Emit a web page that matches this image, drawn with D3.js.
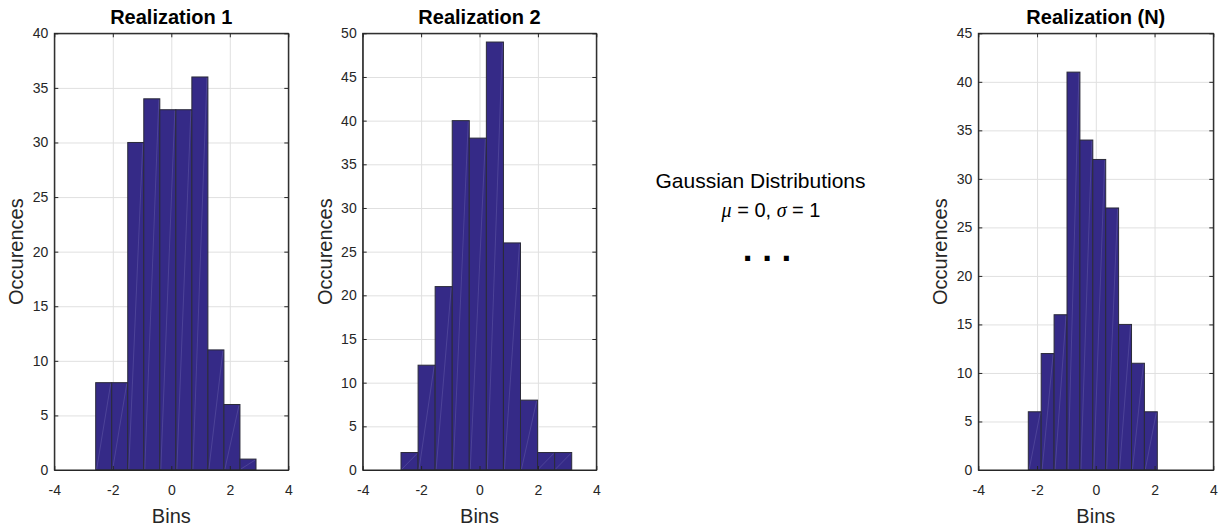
<!DOCTYPE html>
<html>
<head>
<meta charset="utf-8">
<script src="https://cdn.jsdelivr.net/npm/d3@7/dist/d3.min.js"></script>
<style>
  html, body { margin: 0; padding: 0; background: #fff; }
  svg { display: block; font-family: "Liberation Sans", Arial, Helvetica, sans-serif; }
</style>
</head>
<body>
<svg id="chart" width="1225" height="531"></svg>
<script>
// ---------- data ----------
const titles = ["Realization 1", "Realization 2", "Realization (N)"];

const r1Edges  = [-2.585, -2.037, -1.489, -0.941, -0.393, 0.155, 0.703, 1.251, 1.799, 2.347, 2.896];
const r1Counts = [8, 8, 30, 34, 33, 33, 36, 11, 6, 1];

const r2Edges  = [-2.688, -2.103, -1.519, -0.934, -0.350, 0.235, 0.820, 1.404, 1.989, 2.573, 3.158];
const r2Counts = [2, 12, 21, 40, 38, 49, 26, 8, 2, 2];

const rNEdges  = [-2.298, -1.859, -1.420, -0.980, -0.541, -0.102, 0.337, 0.776, 1.216, 1.655, 2.094];
const rNCounts = [6, 12, 16, 41, 34, 32, 27, 15, 11, 6];

const xTicks = [-4, -2, 0, 2, 4];
const yMaxes = [40, 50, 45];
const yStep = 5;

const xLabel = "Bins";
const yLabel = "Occurences";
const noteLine1 = "Gaussian Distributions";

// ---------- layout ----------
const panels = [
  { x0: 54.3,  x1: 288.3,  edges: r1Edges, counts: r1Counts, ymax: yMaxes[0], title: titles[0] },
  { x0: 362.7, x1: 596.3,  edges: r2Edges, counts: r2Counts, ymax: yMaxes[1], title: titles[1] },
  { x0: 978.3, x1: 1213.3, edges: rNEdges, counts: rNCounts, ymax: yMaxes[2], title: titles[2] }
];
const yTop = 33.3, yBot = 470;
const ink = "#262626";
const barFill = "#352a87";

const svg = d3.select("#chart");

panels.forEach(p => {
  const W = p.x1 - p.x0, H = yBot - yTop;
  const g = svg.append("g").attr("transform", `translate(${p.x0},${yTop})`);
  const x = d3.scaleLinear().domain([-4, 4]).range([0, W]);
  const y = d3.scaleLinear().domain([0, p.ymax]).range([H, 0]);
  const yTicks = d3.range(0, p.ymax + 0.001, yStep);

  // grid
  const grid = g.append("g").attr("class", "grid");
  grid.append("g").call(d3.axisLeft(y).tickValues(yTicks).tickSize(-W).tickFormat(""))
    .call(s => s.select(".domain").remove());
  grid.append("g").attr("transform", `translate(0,${H})`)
    .call(d3.axisBottom(x).tickValues(xTicks).tickSize(-H).tickFormat(""))
    .call(s => s.select(".domain").remove());
  grid.selectAll("line").attr("stroke", "#e0e0e0").attr("stroke-width", 1);

  // bars
  const bins = p.counts.map((c, i) => ({ x0: p.edges[i], x1: p.edges[i + 1], c }));
  g.append("g").selectAll("rect").data(bins).join("rect")
    .attr("x", d => x(d.x0))
    .attr("y", d => y(d.c))
    .attr("width", d => x(d.x1) - x(d.x0))
    .attr("height", d => y(0) - y(d.c))
    .attr("fill", barFill)
    .attr("stroke", "#2b2b3a")
    .attr("stroke-width", 1);
  // faint rendering diagonals
  g.append("g").selectAll("line").data(bins).join("line")
    .attr("x1", d => x(d.x0) + 1).attr("y1", y(0) - 1)
    .attr("x2", d => x(d.x1) - 1).attr("y2", d => y(d.c) + 1)
    .attr("stroke", "#8f88c8").attr("stroke-opacity", 0.45).attr("stroke-width", 0.6);

  // axes with inward ticks
  const fmt = d => String(d);
  const axL = g.append("g").call(d3.axisLeft(y).tickValues(yTicks).tickSizeInner(-4).tickSizeOuter(0).tickPadding(6).tickFormat(fmt));
  const axR = g.append("g").attr("transform", `translate(${W},0)`)
    .call(d3.axisRight(y).tickValues(yTicks).tickSizeInner(-4).tickSizeOuter(0).tickFormat(""));
  const axB = g.append("g").attr("transform", `translate(0,${H})`)
    .call(d3.axisBottom(x).tickValues(xTicks).tickSizeInner(-4).tickSizeOuter(0).tickPadding(15).tickFormat(fmt));
  const axT = g.append("g")
    .call(d3.axisTop(x).tickValues(xTicks).tickSizeInner(-4).tickSizeOuter(0).tickFormat(""));
  [axL, axR, axB, axT].forEach(a => {
    a.selectAll(".domain").attr("stroke", ink);
    a.selectAll(".tick line").attr("stroke", ink);
    a.selectAll("text").attr("fill", ink).style("font-size", "14px").style("font-family", "'Liberation Sans', Arial, sans-serif");
  });
  // box
  g.append("rect").attr("x", 0).attr("y", 0).attr("width", W).attr("height", H)
    .attr("fill", "none").attr("stroke", ink).attr("stroke-width", 1);

  // title
  g.append("text").attr("x", W / 2).attr("y", 24 - yTop)
    .attr("text-anchor", "middle").attr("font-weight", "bold").attr("font-size", 20)
    .attr("fill", "#000").text(p.title);
  // x label
  g.append("text").attr("x", W / 2).attr("y", 523 - yTop)
    .attr("text-anchor", "middle").attr("font-size", 20).attr("fill", ink).text(xLabel);
  // y label
  g.append("text").attr("transform", `translate(-31,${H / 2}) rotate(-90)`)
    .attr("text-anchor", "middle").attr("font-size", 20).attr("fill", ink).text(yLabel);
});

// center annotation
const note = svg.append("g").attr("fill", "#000");
note.append("text").attr("x", 760.5).attr("y", 188).attr("text-anchor", "middle")
  .attr("font-size", 21).text(noteLine1);
const l2 = note.append("text").attr("x", 771).attr("y", 217).attr("text-anchor", "middle").attr("font-size", 20);
l2.append("tspan").attr("font-style", "italic").attr("font-family", "'Liberation Serif', 'Times New Roman', serif").text("μ");
l2.append("tspan").text(" = 0, ");
l2.append("tspan").attr("font-style", "italic").attr("font-family", "'Liberation Serif', 'Times New Roman', serif").text("σ");
l2.append("tspan").text(" = 1");
note.append("text").attr("x", 767).attr("y", 261).attr("text-anchor", "middle")
  .attr("font-size", 35).attr("font-weight", "bold").text(". . .");
</script>
</body>
</html>
